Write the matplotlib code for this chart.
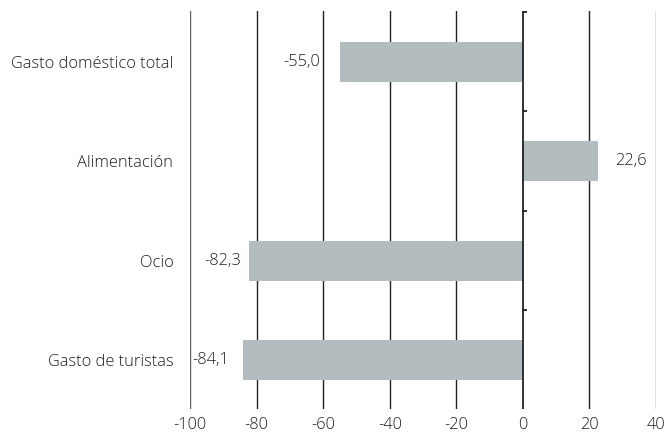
import matplotlib
matplotlib.use("Agg")
import matplotlib.pyplot as plt
import matplotlib.transforms as mtransforms

categories = ["Gasto doméstico total", "Alimentación", "Ocio", "Gasto de turistas"]
values = [-55.0, 22.6, -82.3, -84.1]
xticks = [-100, -80, -60, -40, -20, 0, 20, 40]
label_gap_px = [20, 17, 8, 14]

plt.rcParams['font.family'] = ['Open Sans', 'DejaVu Sans']
FS = 11.8
TXT = '#1e1e1e'
W = 'light'

fig = plt.figure(figsize=(6.67, 4.42), dpi=100)
ax = fig.add_axes([190 / 667, 1 - 409 / 442, 466 / 667, 398 / 442])

pos = list(range(len(categories)))
ax.barh(pos, values, height=0.4, color='#b3bdc0', zorder=3)

ax.set_xlim(-100, 40)
ax.set_ylim(len(categories) - 0.51, -0.51)

for x in xticks:
    if x == 0:
        continue
    col = '#606060' if x in (-100, 40) else '#222222'
    ax.axvline(x, color=col, lw=1.0, zorder=1)
ax.axvline(0, color='#111111', lw=1.2, zorder=4)
bounds = [p - 0.5 for p in pos] + [pos[-1] + 0.5]
ax.hlines(bounds, 0, 1.3, color='#111111', lw=1.2, zorder=4)

for s in ax.spines.values():
    s.set_visible(False)

ax.set_xticks(xticks)
ax.set_xticklabels([str(x) for x in xticks], fontsize=FS, color=TXT, fontweight=W)
ax.tick_params(axis='x', length=0, pad=6)
ax.set_yticks(pos)
ax.set_yticklabels(categories, fontsize=FS, color=TXT, fontweight=W)
ax.tick_params(axis='y', length=0, pad=12)

for p, v, g in zip(pos, values, label_gap_px):
    lab = f"{v:.1f}".replace('.', ',')
    if v < 0:
        off = mtransforms.offset_copy(ax.transData, fig=fig, x=-g, y=0, units='dots')
        ax.text(v, p, lab, transform=off, ha='right', va='center', fontsize=FS,
                color=TXT, fontweight=W, zorder=5)
    else:
        off = mtransforms.offset_copy(ax.transData, fig=fig, x=g, y=0, units='dots')
        ax.text(v, p, lab, transform=off, ha='left', va='center', fontsize=FS,
                color=TXT, fontweight=W, zorder=5)

fig.savefig("out.png", dpi=100)
